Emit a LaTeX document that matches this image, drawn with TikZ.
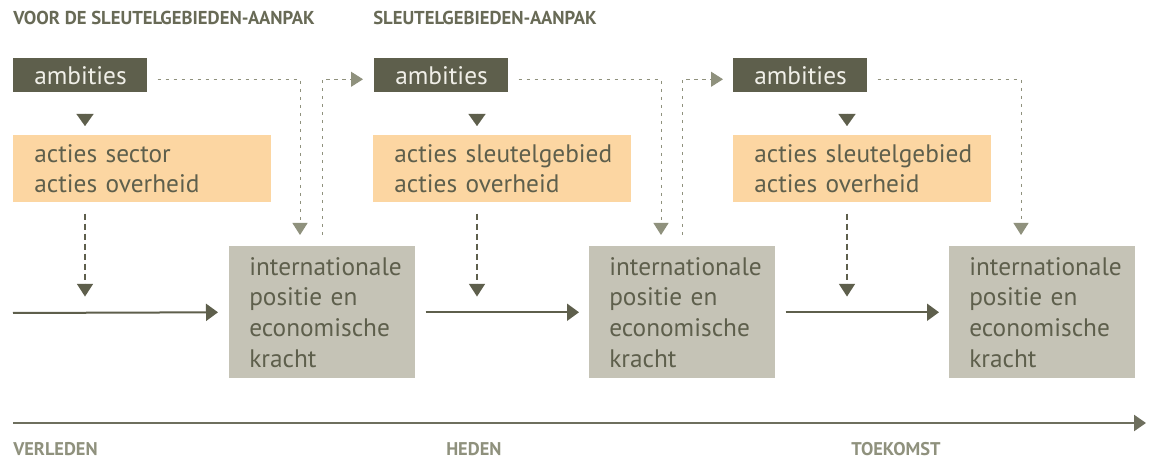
\documentclass[tikz,border=0pt]{standalone}
\usepackage{fontspec}
\setmainfont{PT Sans}
\usetikzlibrary{arrows.meta,calc}
\definecolor{dark}{HTML}{5E5F4C}
\definecolor{ambtext}{HTML}{F0EFE8}
\definecolor{orangebox}{HTML}{FCD6A2}
\definecolor{graybox}{HTML}{C5C3B6}
\definecolor{lightline}{HTML}{8F917D}
\definecolor{headcol}{HTML}{686A56}
\newlength\pxu
\setlength\pxu{0.75pt}
\tikzset{
  boxbase/.style={anchor=north west, inner ysep=0pt, align=left, font=\fontsize{19}{23}\selectfont},
  ambbox/.style={boxbase, fill=dark, text=ambtext, minimum height=34\pxu, text width=92\pxu, inner xsep=21\pxu},
  actbox/.style={boxbase, fill=orangebox, text=dark, minimum height=67\pxu, text width=216\pxu, inner xsep=21\pxu},
  posbox/.style={boxbase, fill=graybox, text=dark, minimum height=132\pxu, text width=146\pxu, inner xsep=20\pxu},
  headlabel/.style={anchor=west, inner sep=0pt, text=headcol, font=\fontsize{14}{16}\selectfont\bfseries},
  timelabel/.style={anchor=west, inner sep=0pt, text=lightline, font=\fontsize{13.8}{16}\selectfont\bfseries},
  tri/.style={draw=dark, line width=0.1pt, -{Triangle[width=12.75pt,length=9pt]}, dark},
  dasharrow/.style={draw=dark, line width=1pt, dash pattern=on 4.5pt off 3pt, -{Triangle[width=12pt,length=9.5pt]}},
  dotarrow/.style={draw=lightline, line width=0.75pt, dash pattern=on 2.5pt off 3.5pt, -{Triangle[width=11.25pt,length=9pt]}},
  solidarrow/.style={draw=dark, line width=1.5pt, -{Triangle[width=12.75pt,length=9pt]}},
  timearrow/.style={draw=dark!90!white, line width=1.8pt, -{Triangle[width=12pt,length=9pt]}},
}
\begin{document}
\begin{tikzpicture}[x=0.75pt,y=-0.75pt]
\useasboundingbox[fill=white] (0,0) rectangle (1157,459);
% headers
\node[headlabel] (h1) at (13,18) {VOOR DE SLEUTELGEBIEDEN-AANPAK};
\node[headlabel] (h2) at (373,18) {SLEUTELGEBIEDEN-AANPAK};
% ambities
\node[ambbox] (amb1) at (13,58) {ambities};
\node[ambbox] (amb2) at (374,58) {ambities};
\node[ambbox] (amb3) at (733,58) {ambities};
% acties
\node[actbox] (act1) at (13,135) {acties sector\\acties overheid};
\node[actbox] (act2) at (373,135) {\mbox{acties sleutelgebied}\\acties overheid};
\node[actbox] (act3) at (733,135) {\mbox{acties sleutelgebied}\\acties overheid};
% positie
\node[posbox] (g1) at (229,246) {internationale\\positie en\\economische\\kracht};
\node[posbox] (g2) at (589,246) {internationale\\positie en\\economische\\kracht};
\node[posbox] (g3) at (949,246) {internationale\\positie en\\economische\\kracht};
% triangles ambities -> acties
\draw[tri] ($(amb1.south west)+(72,21)$) -- ($(act1.north west)+(72,-9)$);
\draw[tri] ($(amb2.south west)+(103,21)$) -- ($(act2.north west)+(104,-9)$);
\draw[tri] ($(amb3.south west)+(114,21)$) -- ($(act3.north west)+(114,-9)$);
% dashed arrows from acties
\draw[dasharrow] ($(act1.south west)+(72,11)$) -- ($(act1.south west)+(72,94)$);
\draw[dasharrow] ($(act2.south west)+(104,11)$) -- ($(act2.south west)+(104,94)$);
\draw[dasharrow] ($(act3.south west)+(114,11)$) -- ($(act3.south west)+(114,94)$);
% solid arrows
\coordinate (s0) at (13,313);
\draw[solidarrow, shorten >=11\pxu] (s0) -- (g1.west);
\draw[solidarrow, shorten <=10\pxu, shorten >=10\pxu] (g1.east) -- (g2.west);
\draw[solidarrow, shorten <=10\pxu, shorten >=10\pxu] (g2.east) -- (g3.west);
% dotted feedback arrows
\draw[dotarrow] ($(amb1.east)+(10,4)$) -| ($(g1.north west)+(71,-11)$);
\draw[dotarrow] ($(g1.north west)+(93,-11)$) |- ($(amb2.west)+(-11,4)$);
\draw[dotarrow] ($(amb2.east)+(10,4)$) -| ($(g2.north west)+(72,-11)$);
\draw[dotarrow] ($(g2.north west)+(93,-11)$) |- ($(amb3.west)+(-10,4)$);
\draw[dotarrow] ($(amb3.east)+(10,4)$) -| ($(g3.north west)+(72,-11)$);
% timeline
\coordinate (tl0) at (13,423);
\coordinate (tl1) at (1146,423);
\draw[timearrow] (tl0) -- (tl1);
\node[timelabel] (v) at (13,449.5) {VERLEDEN};
\node[timelabel] (hd) at (446,449.5) {HEDEN};
\node[timelabel] (tk) at (851,449.5) {TOEKOMST};
\end{tikzpicture}
\end{document}
